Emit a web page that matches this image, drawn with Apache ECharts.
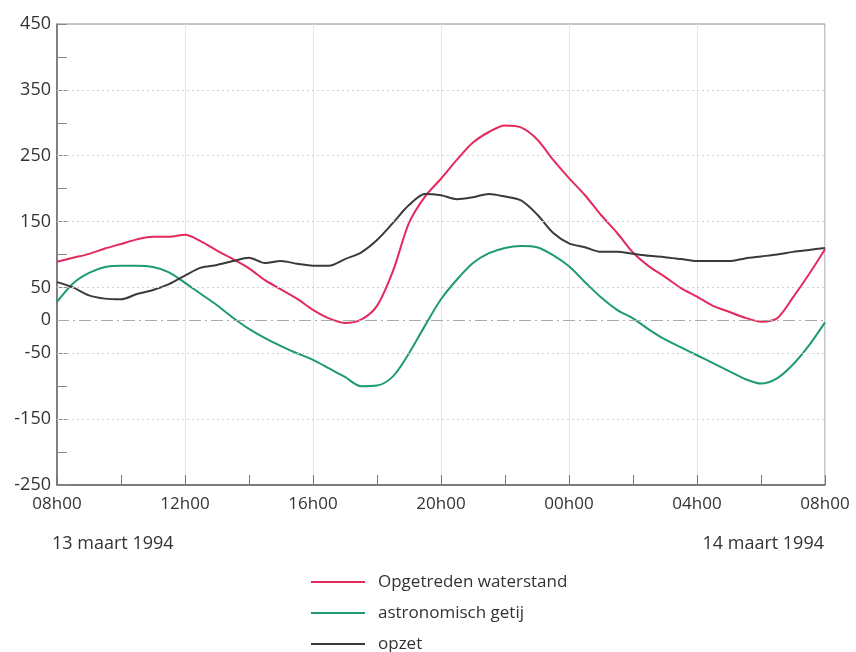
<!DOCTYPE html>
<html>
<head>
<meta charset="utf-8">
<script src="https://cdn.jsdelivr.net/npm/echarts@6/dist/echarts.min.js"></script>
<style>html,body{margin:0;padding:0;background:#fff}#c{width:856px;height:652px}</style>
</head>
<body>
<div id="c"></div>
<script>
// time categories, every 30 minutes from 08h00 (13 maart) to 08h00 (14 maart)
const times = [];
for (let i = 0; i <= 48; i++) {
  const h = (8 + Math.floor(i / 2)) % 24;
  const m = i % 2 ? '30' : '00';
  times.push(String(h).padStart(2, '0') + 'h' + m);
}
const seriesNames = ['Opgetreden waterstand', 'astronomisch getij', 'opzet'];
const waterstand = [89,95,101,109,116,123,127,127,130,120,106,93,79,61,47,33,16,3,-4,1,22,75,148,188,215,244,270,286,296,293,275,244,216,190,160,133,103,82,66,49,36,22,13,4,-2,3,35,70,108];
const getij = [28,56,72,81,83,83,81,73,57,40,23,4,-13,-27,-39,-50,-60,-73,-86,-100,-99,-85,-50,-8,32,62,87,102,110,113,111,99,82,58,35,16,3,-14,-29,-41,-53,-65,-77,-89,-96,-88,-67,-38,-3];
const opzet = [58,50,38,33,32,40,46,55,68,80,84,90,95,87,90,86,83,83,93,103,122,148,175,192,190,184,187,192,188,182,161,133,117,111,104,104,101,98,96,93,90,90,90,94,97,100,104,107,110];
const yLabels = [450,350,250,150,50,0,-50,-150,-250];
const dottedLines = [350,250,150,50,-50,-150];
const dateLabels = ['13 maart 1994', '14 maart 1994'];

const colors = ['#e42a5c', '#1e9a73', '#3a3a3a'];
const chart = echarts.init(document.getElementById('c'), null, {renderer: 'canvas'});
const font = '"Open Sans", "Noto Sans", sans-serif';

chart.setOption({
  animation: false,
  color: colors,
  grid: {left: 57, right: 31, top: 24, bottom: 167, show: true, borderColor: '#888', borderWidth: 1},
  xAxis: {
    type: 'category', data: times, boundaryGap: false,
    axisLine: {onZero: false, lineStyle: {color: '#666', width: 1.5}},
    axisTick: {inside: true, length: 10, interval: 3, lineStyle: {color: '#777'}},
    axisLabel: {interval: 7, color: '#333', fontSize: 17, fontFamily: font, margin: 11},
    splitLine: {show: true, interval: 7, lineStyle: {color: '#e6e6e6', width: 1}}
  },
  yAxis: {
    type: 'value', min: -250, max: 450, interval: 50,
    axisLine: {show: true, lineStyle: {color: '#666', width: 1.5}},
    axisTick: {show: true, inside: true, length: 10, lineStyle: {color: '#888'}},
    axisLabel: {color: '#333', fontSize: 18, fontFamily: font, margin: 6,
      formatter: v => yLabels.indexOf(v) >= 0 ? String(v) : ''},
    splitLine: {show: false}
  },
  legend: {
    orient: 'vertical', left: 306, top: 566, height: 86, itemGap: 9, itemWidth: 54, itemHeight: 2,
    icon: 'rect', data: seriesNames,
    textStyle: {color: '#333', fontSize: 17, lineHeight: 22, fontFamily: font, padding: [0, 0, 0, 8]}
  },
  graphic: [
    {type: 'text', left: 52, top: 535, style: {text: dateLabels[0], fill: '#333', font: '18px ' + font}},
    {type: 'text', right: 32, top: 535, style: {text: dateLabels[1], fill: '#333', font: '18px ' + font}}
  ],
  series: [
    {name: seriesNames[0], type: 'line', data: waterstand, smooth: 0.3, showSymbol: false,
     lineStyle: {width: 2}, z: 3,
     markLine: {silent: true, symbol: 'none', label: {show: false},
       data: dottedLines.map(v => ({yAxis: v, lineStyle: {color: '#cfcfcf', type: [2, 3], width: 1}}))
         .concat([{yAxis: 0, lineStyle: {color: '#aaa', type: [12, 4, 2, 4], width: 1.2}}])}},
    {name: seriesNames[1], type: 'line', data: getij, smooth: 0.3, showSymbol: false, lineStyle: {width: 2}, z: 3},
    {name: seriesNames[2], type: 'line', data: opzet, smooth: 0.3, showSymbol: false, lineStyle: {width: 2}, z: 3}
  ]
});
</script>
</body>
</html>
